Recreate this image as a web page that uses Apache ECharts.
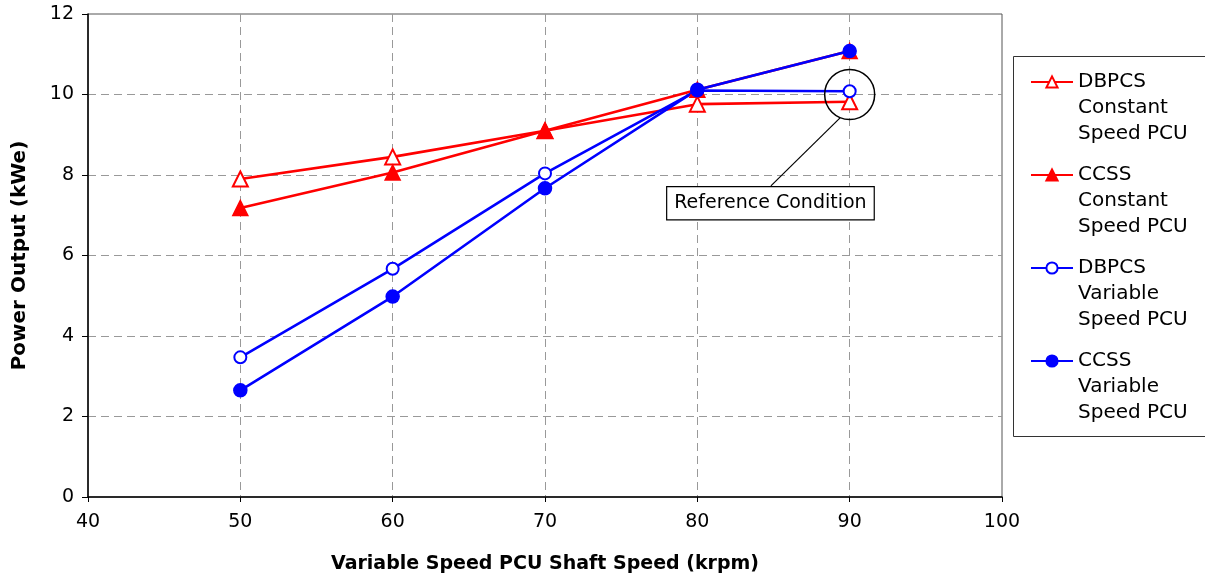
<!DOCTYPE html>
<html>
<head>
<meta charset="utf-8">
<script src="https://cdn.jsdelivr.net/npm/echarts@6/dist/echarts.min.js"></script>
<style>
  html, body { margin: 0; padding: 0; background: #fff; }
  #chart { width: 1205px; height: 581px; }
</style>
</head>
<body>
<div id="chart"></div>
<script>
// shaft speed (krpm)
var speeds = [50, 60, 70, 80, 90];
// power output (kWe)
var dbpcsConstant = [7.9, 8.45, 9.1, 9.76, 9.82];
var ccssConstant = [7.18, 8.06, 9.1, 10.12, 11.08];
var dbpcsVariable = [3.47, 5.67, 8.04, 10.1, 10.08];
var ccssVariable = [2.65, 4.98, 7.67, 10.12, 11.08];

var seriesNames = [
    'DBPCS\nConstant\nSpeed PCU',
    'CCSS\nConstant\nSpeed PCU',
    'DBPCS\nVariable\nSpeed PCU',
    'CCSS\nVariable\nSpeed PCU'
];

// annotation: reference condition
var refPoint = [90, 10];
var refLabelPoint = [84.8, 7.3];
var refLeader = [[89.37, 9.42], [84.83, 7.73]];
var refText = 'Reference Condition';

var FONT = 'DejaVu Sans, Liberation Sans, sans-serif';

function pairs( ys ) {
    return speeds.map(function (x, i) { return [x, ys[i]]; });
}

function lineSeries( name, ys, color, symbol, size ) {
    return {
        name: name,
        type: 'line',
        data: pairs(ys),
        symbol: symbol,
        symbolSize: size,
        showAllSymbol: true,
        lineStyle: { color: color, width: 2.6 },
        itemStyle: { color: color, borderColor: color, borderWidth: 1.5 },
        emphasis: { disabled: true }
    };
}

var myChart = echarts.init(document.getElementById('chart')),
    option = {
        backgroundColor: '#fff',
        animation: false,
        textStyle: { fontFamily: FONT },
        grid: {
            left: 88,
            right: 203,
            top: 14,
            bottom: 84,
            show: true,
            borderColor: '#555',
            borderWidth: 1
        },
        // box round the legend
        graphic: [{
            type: 'rect',
            shape: { x: 1013.5, y: 56.5, width: 200, height: 380 },
            style: { fill: 'none', stroke: '#333', lineWidth: 1 },
            silent: true
        }],
        legend: {
            data: seriesNames,
            orient: 'vertical',
            left: 1030,
            top: 17,
            padding: 0,
            itemGap: -37,
            itemWidth: 42,
            itemHeight: 14,
            selectedMode: false,
            // two blank lines above so the marker sits on the first line
            formatter: function (name) { return '\n\n' + name; },
            textStyle: {
                fontFamily: FONT,
                fontSize: 20,
                lineHeight: 26,
                color: '#000'
            }
        },
        xAxis: {
            type: 'value',
            min: 40,
            max: 100,
            interval: 10,
            name: 'Variable Speed PCU Shaft Speed (krpm)',
            nameLocation: 'middle',
            nameGap: 58,
            nameTextStyle: { fontFamily: FONT, fontSize: 19, fontWeight: 'bold', color: '#000' },
            axisLine: { show: true, lineStyle: { color: '#000', width: 1.5 } },
            axisTick: { show: true, inside: false, length: 5, lineStyle: { color: '#000' } },
            axisLabel: { fontFamily: FONT, fontSize: 19, color: '#000', margin: 16 },
            splitLine: {
                show: true,
                showMinLine: false,
                showMaxLine: false,
                lineStyle: { color: '#999', type: [8, 5], width: 1 }
            }
        },
        yAxis: {
            type: 'value',
            min: 0,
            max: 12,
            interval: 2,
            name: 'Power Output (kWe)',
            nameLocation: 'middle',
            nameGap: 58,
            nameTextStyle: { fontFamily: FONT, fontSize: 20, fontWeight: 'bold', color: '#000' },
            axisLine: { show: true, lineStyle: { color: '#000', width: 1.5 } },
            axisTick: { show: true, inside: false, length: 6, lineStyle: { color: '#000' } },
            axisLabel: { fontFamily: FONT, fontSize: 19, color: '#000', margin: 14 },
            splitLine: {
                show: true,
                showMinLine: false,
                showMaxLine: false,
                lineStyle: { color: '#999', type: [8, 5], width: 1 }
            }
        },
        series: [
            lineSeries(seriesNames[0], dbpcsConstant, '#ff0000', 'emptyTriangle', 15),
            lineSeries(seriesNames[1], ccssConstant, '#ff0000', 'triangle', 15),
            lineSeries(seriesNames[2], dbpcsVariable, '#0000ff', 'emptyCircle', 12),
            lineSeries(seriesNames[3], ccssVariable, '#0000ff', 'circle', 13),
            {
                name: 'annotation',
                type: 'line',
                data: [],
                silent: true,
                markLine: {
                    silent: true,
                    symbol: 'none',
                    label: { show: false },
                    lineStyle: { color: '#000', width: 1.2, type: 'solid' },
                    data: [[{ coord: refLeader[0] }, { coord: refLeader[1] }]]
                },
                markPoint: {
                    silent: true,
                    data: [
                        {
                            coord: refPoint,
                            symbol: 'circle',
                            symbolSize: 50,
                            itemStyle: { color: 'rgba(0,0,0,0)', borderColor: '#000', borderWidth: 1.5 },
                            label: { show: false }
                        },
                        {
                            coord: refLabelPoint,
                            symbol: 'circle',
                            symbolSize: 1,
                            itemStyle: { color: 'rgba(0,0,0,0)' },
                            label: {
                                show: true,
                                position: 'inside',
                                formatter: refText,
                                fontFamily: FONT,
                                fontSize: 19,
                                color: '#000',
                                backgroundColor: '#fff',
                                borderColor: '#000',
                                borderWidth: 1.2,
                                padding: [7, 7, 6, 7]
                            }
                        }
                    ]
                }
            }
        ]
    };

myChart.setOption(option);
</script>
</body>
</html>
